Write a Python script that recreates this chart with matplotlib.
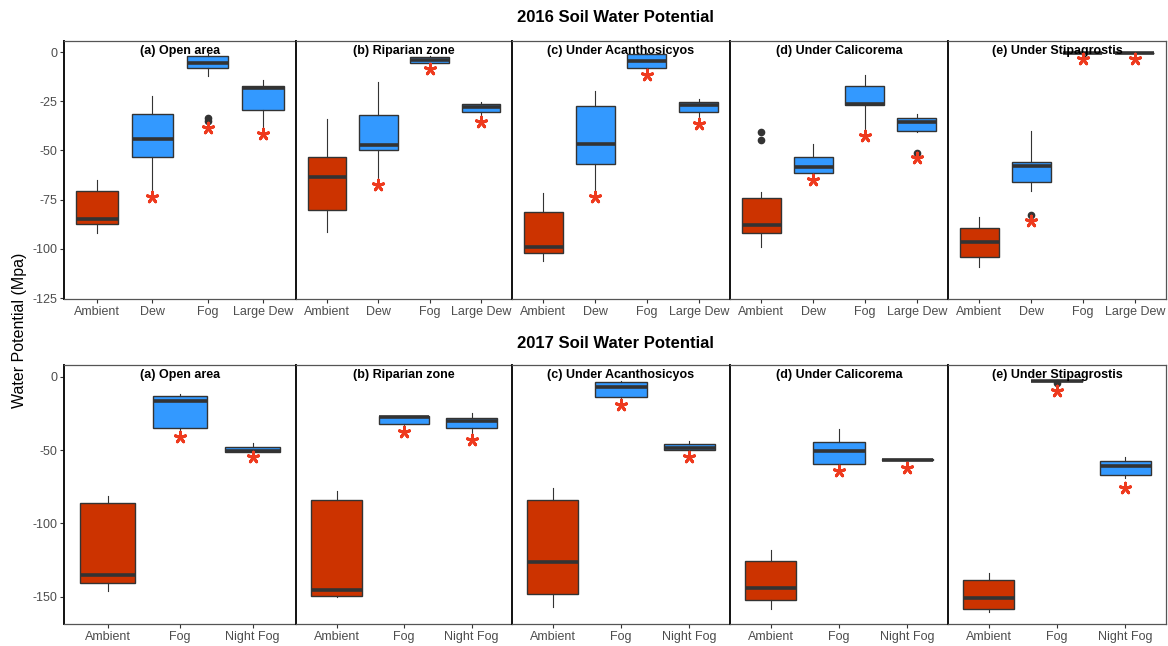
import numpy as np
import matplotlib.pyplot as plt

plt.rcParams['font.family'] = ['Liberation Sans', 'DejaVu Sans']
plt.rcParams['axes.unicode_minus'] = False

panels = ["(a) Open area", "(b) Riparian zone", "(c) Under Acanthosicyos",
          "(d) Under Calicorema", "(e) Under Stipagrostis"]

# ---- 2016: one row per panel, one entry per treatment ----
cats_2016 = ["Ambient", "Dew", "Fog", "Large Dew"]
lo_2016 = [[-92.1, -71.0, -12.2, -38.8],
           [-91.3, -65.0, -5.8, -32.9],
           [-106.0, -71.0, -9.5, -32.9],
           [-98.9, -63.3, -39.6, -40.5],
           [-109.4, -70.5, -0.5, -0.7]]
q1_2016 = [[-87.2, -53.5, -8.1, -29.3],
           [-80.5, -49.6, -5.4, -30.3],
           [-102.3, -56.9, -8.1, -30.3],
           [-91.8, -61.7, -26.9, -40.1],
           [-104.3, -66.1, -0.5, -0.7]]
med_2016 = [[-84.7, -44.4, -5.8, -18.1],
            [-63.3, -47.3, -4.1, -28.1],
            [-98.9, -46.7, -4.4, -26.9],
            [-87.9, -58.3, -26.4, -35.4],
            [-96.7, -57.8, -0.5, -0.7]]
q3_2016 = [[-70.5, -31.5, -2.0, -17.3],
           [-53.2, -31.8, -2.7, -26.4],
           [-81.5, -27.4, -1.2, -25.2],
           [-74.4, -53.4, -17.3, -33.7],
           [-89.3, -55.7, -0.5, -0.7]]
hi_2016 = [[-65.0, -22.2, -1.0, -14.2],
           [-34.0, -15.1, -2.2, -25.2],
           [-71.8, -19.8, -0.7, -24.1],
           [-71.3, -46.7, -11.7, -31.7],
           [-84.0, -40.0, -0.5, -0.7]]
out_2016 = [[[], [], [-33.7, -35.2], []],
            [[], [], [], []],
            [[], [], [], []],
            [[-40.8, -44.7], [], [], [-51.2]],
            [[], [-82.8], [], []]]
star_2016 = [[np.nan, -73.5, -38.4, -41.7],
             [np.nan, -67.6, -8.6, -35.4],
             [np.nan, -73.5, -11.7, -36.6],
             [np.nan, -65.0, -42.5, -53.7],
             [np.nan, -85.9, -3.6, -3.7]]

# ---- 2017 ----
cats_2017 = ["Ambient", "Fog", "Night Fog"]
lo_2017 = [[-146.1, -36.3, -51.5],
           [-150.4, -33.5, -38.5],
           [-156.8, -15.0, -51.5],
           [-158.2, -60.5, -57.2],
           [-160.2, -3.0, -69.0]]
q1_2017 = [[-140.9, -35.0, -51.3],
           [-149.3, -32.5, -35.2],
           [-148.4, -13.6, -50.0],
           [-152.2, -59.5, -57.0],
           [-158.6, -2.9, -66.8]]
med_2017 = [[-135.2, -16.6, -50.9],
            [-145.7, -27.7, -30.5],
            [-126.1, -7.3, -48.9],
            [-143.8, -50.9, -56.6],
            [-151.1, -2.9, -60.7]]
q3_2017 = [[-86.3, -13.0, -47.7],
           [-83.8, -27.0, -28.0],
           [-84.3, -3.8, -45.9],
           [-125.4, -44.3, -56.2],
           [-138.8, -2.8, -57.7]]
hi_2017 = [[-81.1, -11.8, -45.4],
           [-77.9, -26.5, -24.6],
           [-76.1, -2.7, -43.6],
           [-118.2, -35.4, -56.0],
           [-133.6, -2.7, -55.0]]
out_2017 = [[[], [], []],
            [[], [], []],
            [[], [], []],
            [[], [], []],
            [[], [-4.5], []]]
star_2017 = [[np.nan, -41.3, -54.5],
             [np.nan, -37.9, -43.2],
             [np.nan, -19.3, -54.5],
             [np.nan, -64.1, -62.5],
             [np.nan, -9.5, -76.1]]

AMBIENT_COL = '#CC3300'
TREAT_COL = '#3399FF'
EDGE = '#333333'
TICK_COL = '#4D4D4D'

W, H = 1168, 646
fig = plt.figure(figsize=(W / 100, H / 100), dpi=100)
x_edges = [64, 296, 512, 730, 948, 1166]


def draw_row(top, bottom, cats, lo, q1, med, q3, hi, out, star, ylim, yticks):
    n = len(cats)
    pos = np.arange(n)
    for p in range(5):
        ax = fig.add_axes([x_edges[p] / W, 1 - bottom / H,
                           (x_edges[p + 1] - x_edges[p]) / W, (bottom - top) / H])
        stats = [dict(whislo=lo[p][i], q1=q1[p][i], med=med[p][i], q3=q3[p][i],
                      whishi=hi[p][i], fliers=out[p][i]) for i in range(n)]
        bp = ax.bxp(stats, positions=pos, widths=0.75, patch_artist=True,
                    showcaps=False,
                    boxprops=dict(edgecolor=EDGE, linewidth=1.0),
                    medianprops=dict(color=EDGE, linewidth=2.6, solid_capstyle='butt'),
                    whiskerprops=dict(color=EDGE, linewidth=0.8),
                    flierprops=dict(marker='o', markersize=4.5, markerfacecolor=EDGE,
                                    markeredgecolor=EDGE))
        for i, box in enumerate(bp['boxes']):
            box.set_facecolor(AMBIENT_COL if cats[i] == "Ambient" else TREAT_COL)
        ax.scatter(pos, star[p], marker=(5, 2, 0), s=60, linewidths=2.1,
                   color='#EE3A1E', zorder=5)
        ax.set_xlim(-0.6, n - 1 + 0.6)
        ax.set_ylim(*ylim)
        ax.set_xticks(pos)
        ax.set_xticklabels(cats)
        ax.set_yticks(yticks)
        ax.tick_params(axis='both', colors='#333333', labelcolor=TICK_COL,
                       labelsize=9, length=3, width=0.8, pad=2)
        if p > 0:
            ax.tick_params(axis='y', left=False, labelleft=False)
        for side in ['top', 'bottom', 'right']:
            ax.spines[side].set_color('#555555')
            ax.spines[side].set_linewidth(0.9)
        ax.spines['right'].set_visible(p == 4)
        ax.spines['left'].set_color('#111111')
        ax.spines['left'].set_linewidth(1.4)
        ax.text(0.5, 0.985, panels[p], transform=ax.transAxes, ha='center', va='top',
                fontsize=9, fontweight='bold')


draw_row(41, 299, cats_2016, lo_2016, q1_2016, med_2016, q3_2016, hi_2016,
         out_2016, star_2016, (-125.5, 5.6), [0, -25, -50, -75, -100, -125])
draw_row(365, 624, cats_2017, lo_2017, q1_2017, med_2017, q3_2017, hi_2017,
         out_2017, star_2017, (-168.6, 8.0), [0, -50, -100, -150])

fig.text(615 / W, 1 - 18 / H, "2016 Soil Water Potential", ha='center', va='center',
         fontsize=12, fontweight='bold')
fig.text(615 / W, 1 - 343 / H, "2017 Soil Water Potential", ha='center', va='center',
         fontsize=12, fontweight='bold')
fig.text(20 / W, 1 - 330 / H, "Water Potential (Mpa)", rotation=90, ha='center',
         va='center', fontsize=11.5)

fig.savefig('out.png', dpi=100)
